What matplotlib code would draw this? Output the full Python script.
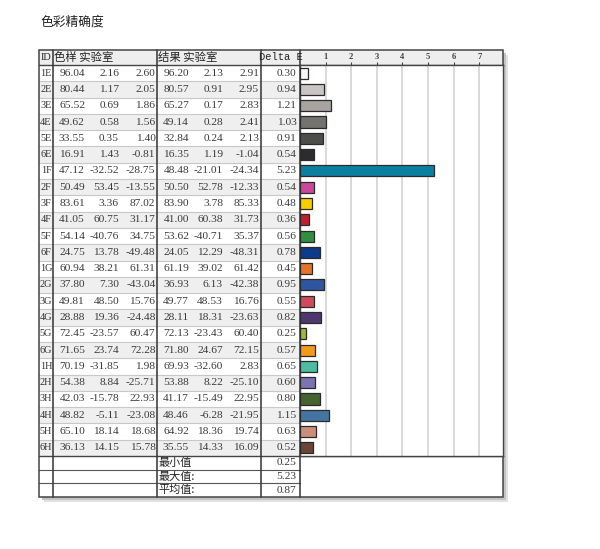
import matplotlib
matplotlib.use("Agg")
import matplotlib.pyplot as plt
from matplotlib.patches import Rectangle

title = "色彩精确度"
ids = ["1E","2E","3E","4E","5E","6E","1F","2F","3F","4F","5F","6F",
       "1G","2G","3G","4G","5G","6G","1H","2H","3H","4H","5H","6H"]
sample_L = [96.04,80.44,65.52,49.62,33.55,16.91,47.12,50.49,83.61,41.05,54.14,24.75,
            60.94,37.80,49.81,28.88,72.45,71.65,70.19,54.38,42.03,48.82,65.10,36.13]
sample_a = [2.16,1.17,0.69,0.58,0.35,1.43,-32.52,53.45,3.36,60.75,-40.76,13.78,
            38.21,7.30,48.50,19.36,-23.57,23.74,-31.85,8.84,-15.78,-5.11,18.14,14.15]
sample_b = [2.60,2.05,1.86,1.56,1.40,-0.81,-28.75,-13.55,87.02,31.17,34.75,-49.48,
            61.31,-43.04,15.76,-24.48,60.47,72.28,1.98,-25.71,22.93,-23.08,18.68,15.78]
result_L = [96.20,80.57,65.27,49.14,32.84,16.35,48.48,50.50,83.90,41.00,53.62,24.05,
            61.19,36.93,49.77,28.11,72.13,71.80,69.93,53.88,41.17,48.46,64.92,35.55]
result_a = [2.13,0.91,0.17,0.28,0.24,1.19,-21.01,52.78,3.78,60.38,-40.71,12.29,
            39.02,6.13,48.53,18.31,-23.43,24.67,-32.60,8.22,-15.49,-6.28,18.36,14.33]
result_b = [2.91,2.95,2.83,2.41,2.13,-1.04,-24.34,-12.33,85.33,31.73,35.37,-48.31,
            61.42,-42.38,16.76,-23.63,60.40,72.15,2.83,-25.10,22.95,-21.95,19.74,16.09]
delta_e = [0.30,0.94,1.21,1.03,0.91,0.54,5.23,0.54,0.48,0.36,0.56,0.78,
           0.45,0.95,0.55,0.82,0.25,0.57,0.65,0.60,0.80,1.15,0.63,0.52]
bar_colors = ["#f8f4f0","#c9c5c2","#a7a4a0","#74726f","#4d4d4b","#2c2c2e","#0a7f9f","#c8489a",
              "#f5cf00","#c0202e","#2f8f3f","#0d3a8a","#e47528","#2f55a0","#cf4a5c","#4f3870",
              "#9bbb35","#f29a1c","#4ebba3","#7c73b3","#456331","#45749e","#cc8e7a","#6a4536"]
summary_labels = ["最小值", "最大值:", "平均值:"]
summary_values = [0.25, 5.23, 0.87]
header_sample = "色样 实验室"
header_result = "结果 实验室"
header_delta = "Delta E"
ticks = [1, 2, 3, 4, 5, 6, 7]

FAM = ["Liberation Serif", "Noto Sans CJK SC", "DejaVu Sans"]
CJK = ["Noto Sans CJK SC", "DejaVu Sans"]

fig = plt.figure(figsize=(6.0, 5.49), dpi=100)
ax = fig.add_axes([0, 0, 1, 1])
ax.set_xlim(0, 600)
ax.set_ylim(549, 0)
ax.axis("off")

X0, XID, XS, XR, XD, XE = 39, 53, 157, 261, 300, 503
Y0, YH = 50, 65
n = len(ids)
RH = (456 - YH) / n
YR = YH + n * RH
SH = (497 - YR) / 3
YB = YR + 3 * SH

ax.text(40, 22, title, fontsize=9.2, family=CJK, va="center", ha="left", color="#222")

# shadow
ax.add_patch(Rectangle((X0 + 5, Y0 + 5), XE - X0, YB - Y0, facecolor="#e2e2e2", edgecolor="none", zorder=0))
ax.add_patch(Rectangle((X0 + 3, Y0 + 3), XE - X0, YB - Y0, facecolor="#c4c4c4", edgecolor="none", zorder=0.5))
ax.add_patch(Rectangle((X0, Y0), XE - X0, YB - Y0, facecolor="white", edgecolor="none", zorder=1))

# header
ax.add_patch(Rectangle((X0, Y0), XE - X0, YH - Y0, facecolor="#eeeeee", edgecolor="none", zorder=1.5))
for i in range(n):
    if i % 2 == 1:
        ax.add_patch(Rectangle((X0, YH + i * RH), XD - X0, RH, facecolor="#efefef", edgecolor="none", zorder=1.5))

# horizontal lines
for i in range(1, n):
    y = YH + i * RH
    ax.plot([X0, XD], [y, y], color="#c8c8c8", lw=0.8, zorder=2)
for k in range(1, 3):
    y = YR + k * SH
    ax.plot([X0, XD], [y, y], color="#555555", lw=0.8, zorder=2)
ax.plot([X0, XE], [YH, YH], color="#444444", lw=1.0, zorder=3)
ax.plot([X0, XE], [YR, YR], color="#444444", lw=1.0, zorder=3)
# vertical lines
for x in [XID, XS, XR, XD]:
    ax.plot([x, x], [Y0, YB], color="#333333", lw=1.1, zorder=3)
ax.add_patch(Rectangle((X0, Y0), XE - X0, YB - Y0, facecolor="none", edgecolor="#444444", lw=1.1, zorder=4))

fs = 8.2
ax.text((X0 + XID) / 2, (Y0 + YH) / 2, "ID", fontsize=7.5, family=FAM, ha="center", va="center", color="#222")
ax.text(XID + 1.5, (Y0 + YH) / 2, header_sample, fontsize=8.2, family=CJK, ha="left", va="center", color="#222")
ax.text(XS + 1.5, (Y0 + YH) / 2, header_result, fontsize=8.2, family=CJK, ha="left", va="center", color="#222")
ax.text((XR + XD) / 2, (Y0 + YH) / 2, header_delta, fontsize=7.5, family=["Liberation Mono"], ha="center", va="center", color="#222")

def fmt(v):
    return f"{v:.2f}"

col_right = [85, 119, 155.5, 189, 223, 259, 296.5]
for i in range(n):
    yc = YH + (i + 0.5) * RH
    ax.text((X0 + XID) / 2, yc, ids[i], fontsize=7.4, family=FAM, ha="center", va="center", color="#333")
    vals = [sample_L[i], sample_a[i], sample_b[i], result_L[i], result_a[i], result_b[i], delta_e[i]]
    for xr, v in zip(col_right, vals):
        ax.text(xr, yc, fmt(v), fontsize=fs, family=FAM, ha="right", va="center", color="#3a3a3a")

for k in range(3):
    yc = YR + (k + 0.5) * SH
    ax.text(XS + 1.5, yc, summary_labels[k], fontsize=8, family=CJK, ha="left", va="center", color="#222")
    ax.text(col_right[-1], yc, fmt(summary_values[k]), fontsize=fs, family=FAM, ha="right", va="center", color="#3a3a3a")

# bar axes
W, H = 600.0, 549.0
bx = fig.add_axes([XD / W, 1 - YR / H, (XE - XD) / W, (YR - YH) / H])
bx.set_zorder(5)
bx.set_facecolor("white")
bx.set_xlim(0, (XE - XD) / 25.6)
bx.set_ylim(n - 0.5, -0.5)
bx.barh(range(n), delta_e, height=0.68, color=bar_colors, edgecolor="#2a2a2a", lw=0.9, zorder=3)
for t in ticks:
    bx.axvline(t, color="#d9d9d9", lw=1.4, zorder=1)
bx.xaxis.tick_top()
bx.set_xticks(ticks)
bx.set_xticklabels([str(t) for t in ticks], fontsize=6.2, family=FAM, color="#444", fontweight="bold")
bx.tick_params(axis="x", direction="out", length=2.5, width=0.8, pad=0.5, colors="#444")
bx.set_yticks([])
for s in bx.spines.values():
    s.set_color("#444444")
    s.set_linewidth(1.0)

fig.savefig("out.png", dpi=100)
